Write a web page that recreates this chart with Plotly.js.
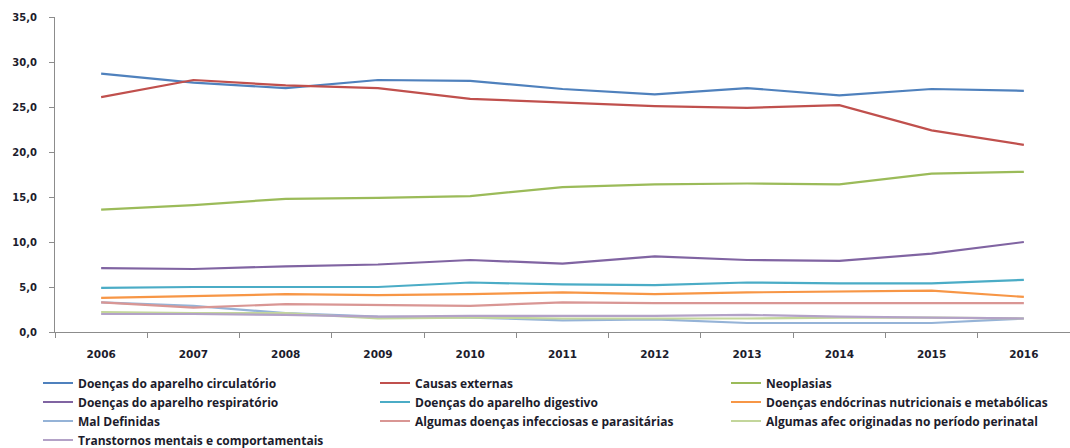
<!DOCTYPE html>
<html>
<head>
<meta charset="utf-8">
<script src="https://cdn.plot.ly/plotly-3.0.1.min.js"></script>
<style>html,body{margin:0;padding:0;background:#fff;}#chart{width:1070px;height:448px;}</style>
</head>
<body>
<div id="chart"></div>
<script>
const years = ['2006','2007','2008','2009','2010','2011','2012','2013','2014','2015','2016'];
const circulatorio = [28.7, 27.7, 27.1, 28.0, 27.9, 27.0, 26.4, 27.1, 26.3, 27.0, 26.8];
const causasExternas = [26.1, 28.0, 27.4, 27.1, 25.9, 25.5, 25.1, 24.9, 25.2, 22.4, 20.8];
const neoplasias = [13.6, 14.1, 14.8, 14.9, 15.1, 16.1, 16.4, 16.5, 16.4, 17.6, 17.8];
const respiratorio = [7.1, 7.0, 7.3, 7.5, 8.0, 7.6, 8.4, 8.0, 7.9, 8.7, 10.0];
const digestivo = [4.9, 5.0, 5.0, 5.0, 5.5, 5.3, 5.2, 5.5, 5.4, 5.4, 5.8];
const endocrinas = [3.8, 4.0, 4.2, 4.1, 4.2, 4.4, 4.2, 4.4, 4.5, 4.6, 3.9];
const malDefinidas = [3.3, 2.9, 2.1, 1.7, 1.6, 1.3, 1.4, 1.0, 1.0, 1.0, 1.5];
const infecciosas = [3.3, 2.7, 3.1, 3.0, 2.9, 3.3, 3.2, 3.2, 3.2, 3.2, 3.2];
const perinatal = [2.2, 2.1, 2.1, 1.5, 1.6, 1.5, 1.5, 1.5, 1.6, 1.6, 1.5];
const transtornos = [2.0, 2.0, 1.9, 1.7, 1.8, 1.8, 1.8, 1.9, 1.7, 1.6, 1.5];

const seriesNames = [
  'Doenças do aparelho circulatório',
  'Causas externas',
  'Neoplasias',
  'Doenças do aparelho respiratório',
  'Doenças do aparelho digestivo',
  'Doenças endócrinas nutricionais e metabólicas',
  'Mal Definidas',
  'Algumas doenças infecciosas e parasitárias',
  'Algumas afec originadas no período perinatal',
  'Transtornos mentais e comportamentais'
];
const seriesValues = [circulatorio, causasExternas, neoplasias, respiratorio, digestivo,
  endocrinas, malDefinidas, infecciosas, perinatal, transtornos];
const seriesColors = ['#4F81BD','#C0504D','#9BBB59','#8064A2','#4BACC6',
  '#F79646','#95B3D7','#D99694','#C3D69B','#B3A2C7'];
const legendIds = ['legend', 'legend2', 'legend3'];

const traces = seriesNames.map((n, i) => ({
  type: 'scatter', mode: 'lines', name: n, x: years, y: seriesValues[i],
  line: {color: seriesColors[i], width: 2.2, shape: 'linear'},
  legend: legendIds[i % 3],
  hoverinfo: 'x+y+name'
}));

const tickFam = '"DejaVu Sans", Verdana, sans-serif';
const legFam = '"Open Sans", Roboto, sans-serif';
const legFont = {family: legFam, size: 12, color: '#1c1c2c', weight: 'bold'};
function mkLegend(xpx) {
  return {
    orientation: 'v', xref: 'container', x: xpx / 1070, xanchor: 'left',
    yref: 'container', y: 0.1775, yanchor: 'top',
    font: legFont, traceorder: 'normal', tracegroupgap: 0,
    bgcolor: 'rgba(0,0,0,0)'
  };
}
const layout = {
  width: 1070, height: 448,
  margin: {l: 55, r: 0, t: 17, b: 116, autoexpand: false},
  paper_bgcolor: '#fff', plot_bgcolor: '#fff',
  separators: ',.',
  showlegend: true,
  font: {family: tickFam, size: 10.5, color: '#1c1c2c', weight: 'bold'},
  xaxis: {
    type: 'category', range: [-0.5, 10.5], showgrid: false, zeroline: false,
    showline: true, linecolor: '#8c8c8c', linewidth: 1,
    ticks: 'outside', tickson: 'boundaries', ticklen: 5, tickcolor: '#8c8c8c',
    tickfont: {family: tickFam, size: 10.5, color: '#1c1c2c', weight: 'bold'},
    ticklabelstandoff: 12, automargin: false
  },
  yaxis: {
    range: [0, 35], dtick: 5, tick0: 0, tickformat: '.1f',
    showgrid: false, zeroline: false,
    showline: true, linecolor: '#8c8c8c', linewidth: 1,
    ticks: 'outside', ticklen: 5, tickcolor: '#8c8c8c',
    tickfont: {family: tickFam, size: 10, color: '#1c1c2c', weight: 'bold'},
    ticklabelstandoff: 10, automargin: false
  },
  legend: mkLegend(38),
  legend2: mkLegend(375),
  legend3: mkLegend(726)
};

Plotly.newPlot('chart', traces, layout, {displayModeBar: false, staticPlot: true});
</script>
</body>
</html>
